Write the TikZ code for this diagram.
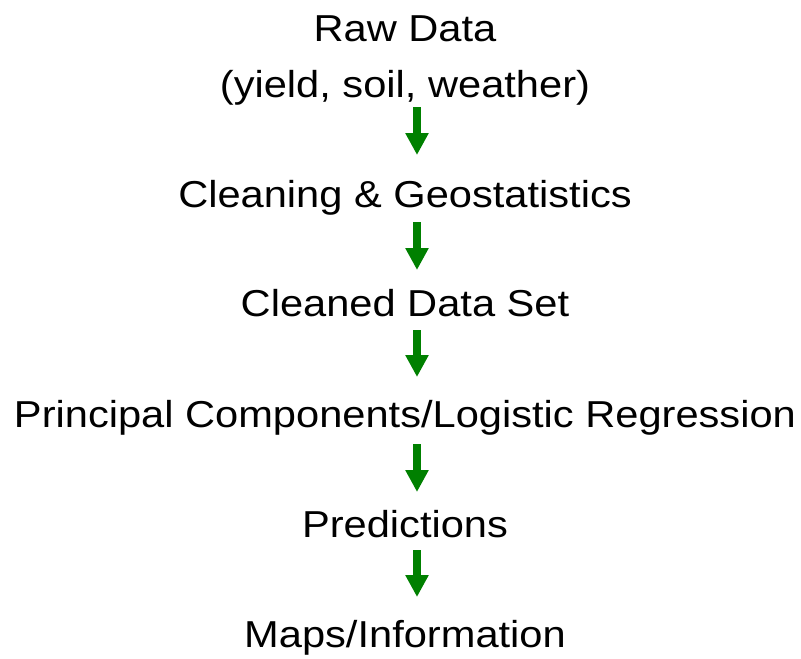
\documentclass[tikz,border=0pt]{standalone}
\usepackage{fontspec}
\setmainfont{Liberation Sans}
\usetikzlibrary{arrows.meta}
\definecolor{arrowgreen}{RGB}{0,128,0}
\tikzset{
  lbl/.style={anchor=base, inner sep=0pt, font=\fontsize{37.5}{45}\selectfont},
  blockarrow/.style={draw=arrowgreen, line width=8pt,
    -{Triangle[width=22pt,length=22pt,fill=arrowgreen]}}
}
\newcommand{\wide}[1]{\scalebox{1.11}[1]{#1}}
\begin{document}
\begin{tikzpicture}[x=1pt,y=-1pt]
\useasboundingbox (0,0) rectangle (801,659);
\node[lbl] (raw1) at (405,41) {\wide{Raw Data}};
\node[lbl] (raw2) at (405,97) {\wide{(yield, soil, weather)}};
\node[lbl] (clean) at (405,207) {\wide{Cleaning \& Geostatistics}};
\node[lbl] (set) at (405,316) {\wide{Cleaned Data Set}};
\node[lbl] (pca) at (405,427) {\wide{Principal Components/Logistic Regression}};
\node[lbl] (pred) at (405,537) {\wide{Predictions}};
\node[lbl] (maps) at (405,647) {\wide{Maps/Information}};
\draw[blockarrow] ([xshift=12pt,yshift=-10pt]raw2.base) -- ([xshift=12pt,yshift=52pt]clean.base);
\draw[blockarrow] ([xshift=12pt,yshift=-15pt]clean.base) -- ([xshift=12pt,yshift=46pt]set.base);
\draw[blockarrow] ([xshift=12pt,yshift=-14pt]set.base) -- ([xshift=12pt,yshift=50pt]pca.base);
\draw[blockarrow] ([xshift=12pt,yshift=-17pt]pca.base) -- ([xshift=12pt,yshift=45pt]pred.base);
\draw[blockarrow] ([xshift=12pt,yshift=-13pt]pred.base) -- ([xshift=12pt,yshift=50pt]maps.base);
\end{tikzpicture}
\end{document}
